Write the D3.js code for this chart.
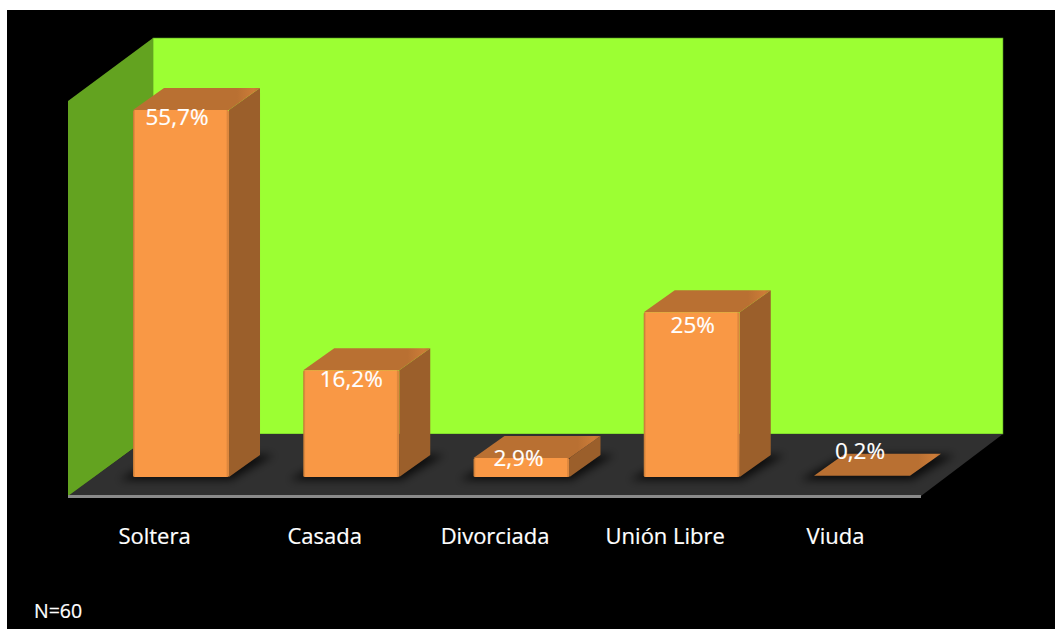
<!DOCTYPE html>
<html>
<head>
<meta charset="utf-8">
<script src="https://cdn.jsdelivr.net/npm/d3@7"></script>
<style>
  html, body { margin: 0; padding: 0; background: #fff; }
  svg { display: block; }
  text { font-family: "Open Sans", "Noto Sans", sans-serif; fill: #fff; stroke: #fff; stroke-width: 0.2; }
</style>
</head>
<body>
<svg id="chart" width="1055" height="629"></svg>
<script>
// Marital status shares, drawn as a 3D column chart.
const categories = ["Soltera", "Casada", "Divorciada", "Unión Libre", "Viuda"];
const shares = [55.7, 16.2, 2.9, 25, 0.2];
const shareLabels = ["55,7%", "16,2%", "2,9%", "25%", "0,2%"];
const sampleNote = "N=60";

const svg = d3.select("#chart");
const depthX = 31, depthY = -22;
const baseY = 477;

const x = d3.scaleBand().domain(categories).range([133, 910]).paddingInner(0.436);
const y = d3.scaleLinear().domain([0, 55.7]).range([baseY, 110]);
const pts = a => a.map(p => p.join(",")).join(" ");

// Black canvas inset from the white page edge.
svg.append("rect").attr("x", 7).attr("y", 10).attr("width", 1048).attr("height", 619).attr("fill", "#000");

const defs = svg.append("defs");
defs.append("filter").attr("id", "soft").attr("x", "-30%").attr("y", "-60%").attr("width", "160%").attr("height", "220%")
  .append("feGaussianBlur").attr("stdDeviation", 4.5);
const floorShape = [[68, 496], [921, 496], [1003, 434], [153, 434]];
defs.append("clipPath").attr("id", "floorClip").append("polygon").attr("points", pts(floorShape));

const frontGrad = defs.append("linearGradient").attr("id", "frontFace");
[[0, "#bb7534"], [0.025, "#f99845"], [0.97, "#f99845"], [0.98, "#dd873d"], [1, "#dd873d"]]
  .forEach(([o, c]) => frontGrad.append("stop").attr("offset", o).attr("stop-color", c));
const topGrad = defs.append("linearGradient").attr("id", "topFace");
[[0, "#b97032"], [0.82, "#b97032"], [0.95, "#cc7c38"], [1, "#b97032"]]
  .forEach(([o, c]) => topGrad.append("stop").attr("offset", o).attr("stop-color", c));

// Chart box: back wall, side wall and floor.
svg.append("rect").attr("x", 153).attr("y", 38).attr("width", 850).attr("height", 396)
  .attr("fill", "#9cff33").attr("stroke", "#4f8f22").attr("stroke-width", 0.6);
svg.append("polygon").attr("points", pts([[68, 101], [153, 38], [153, 434], [68, 497]])).attr("fill", "#63a320");
svg.append("polygon").attr("points", pts(floorShape)).attr("fill", "#303030");
svg.append("rect").attr("x", 68).attr("y", 495).attr("width", 853).attr("height", 3).attr("fill", "#8a8a8a");

// Soft contact shadows on the floor.
svg.append("g").attr("clip-path", "url(#floorClip)")
  .selectAll("polygon").data(categories).join("polygon")
  .attr("filter", "url(#soft)")
  .attr("fill", "#000").attr("fill-opacity", 0.75)
  .attr("points", c => {
    const l = x(c), r = l + x.bandwidth();
    return pts([[l - 14, baseY + 3], [r + 2, baseY + 3], [r + depthX + 14, baseY + depthY], [l + depthX, baseY + depthY]]);
  });

// Columns: side face, top face, then front face.
const bars = svg.append("g").selectAll("g").data(categories.map((c, i) => ({ c, v: shares[i], label: shareLabels[i] }))).join("g");

bars.filter(d => d.v >= 1).append("polygon")
  .attr("fill", "#9b5f2b")
  .attr("points", d => {
    const r = x(d.c) + x.bandwidth();
    return pts([[r, y(d.v)], [r + depthX, y(d.v) + depthY], [r + depthX, baseY + depthY], [r, baseY]]);
  });

bars.append("polygon")
  .attr("fill", "url(#topFace)")
  .attr("points", d => {
    const l = x(d.c), r = l + x.bandwidth(), t = y(d.v);
    return pts([[l, t], [r, t], [r + depthX, t + depthY], [l + depthX, t + depthY]]);
  });

bars.filter(d => d.v >= 1).append("rect")
  .attr("x", d => x(d.c)).attr("y", d => y(d.v))
  .attr("width", x.bandwidth()).attr("height", d => baseY - y(d.v))
  .attr("rx", 1.5)
  .attr("fill", "url(#frontFace)");

// Value labels sit near the top of each column; small nudges keep them clear of the edges.
const nudgeX = [-4, 0, -3, 1, -2];
const nudgeY = [15, 17, 8, 21, -17];
bars.append("text")
  .attr("text-anchor", "middle")
  .attr("font-size", 22.5)
  .attr("x", (d, i) => x(d.c) + x.bandwidth() / 2 + nudgeX[i])
  .attr("y", (d, i) => y(d.v) + nudgeY[i])
  .text(d => d.label);

// Category labels below the floor, offset left to follow the perspective.
svg.append("g").selectAll("text").data(categories).join("text")
  .attr("text-anchor", "middle")
  .attr("font-size", 22)
  .attr("x", c => x(c) + x.bandwidth() / 2 - 26.5)
  .attr("y", 544)
  .text(c => c);

svg.append("text").attr("x", 34).attr("y", 618).attr("font-size", 19.5).text(sampleNote);
</script>
</body>
</html>
